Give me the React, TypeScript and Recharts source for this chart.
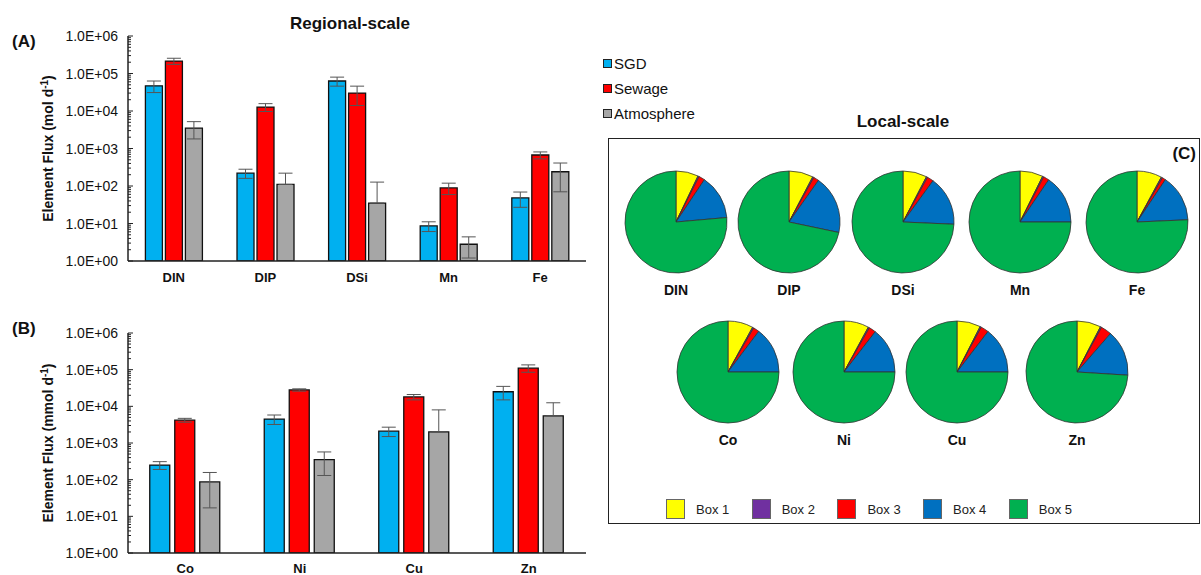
import React from 'react';
import { BarChart, Bar, XAxis, YAxis, ErrorBar, Legend, PieChart, Pie, Cell } from 'recharts';

const FONT = '"Liberation Sans", Arial, Helvetica, sans-serif';

// (A) regional-scale fluxes, mol d-1
const elementsA = ['DIN', 'DIP', 'DSi', 'Mn', 'Fe'];
const sgdA = [47000, 220, 63000, 8.6, 48];
const sgdAErr = [16000, 60, 17000, 2.5, 21];
const sewageA = [215000, 12700, 30000, 89, 670];
const sewageAErr = [40000, 3000, 16000, 30, 140];
const atmA = [3500, 110, 35, 2.8, 240];
const atmAErr = [1700, 110, 92, 1.6, 170];

// (B) regional-scale fluxes, mmol d-1
const elementsB = ['Co', 'Ni', 'Cu', 'Zn'];
const sgdB = [250, 4500, 2100, 25000];
const sgdBErr = [60, 1300, 600, 10000];
const sewageB = [4200, 28000, 18000, 110000];
const sewageBErr = [500, 2000, 3000, 25000];
const atmB = [87, 350, 2000, 5500];
const atmBErr = [70, 220, 6000, 7000];

const seriesNames = ['SGD', 'Sewage', 'Atmosphere'];
const seriesColors = ['#00B0F0', '#FF0000', '#A6A6A6'];

const decadeTicks = [1, 10, 100, 1e3, 1e4, 1e5, 1e6];
const minorTicks = decadeTicks.slice(0, -1).flatMap((d) => [2, 3, 4, 5, 6, 7, 8, 9].map((m) => m * d));
const allTicks = [...decadeTicks, ...minorTicks].sort((a, b) => a - b);

// (C) local-scale share per box (%), Box 1..5
const boxNames = ['Box 1', 'Box 2', 'Box 3', 'Box 4', 'Box 5'];
const boxColors = ['#FFFF00', '#7030A0', '#FF0000', '#0070C0', '#00B050'];
const shareDIN = [7.1, 0.4, 1.9, 14.2, 76.4];
const shareDIP = [7.7, 0.4, 1.7, 18.5, 71.7];
const shareDSi = [7.6, 0.4, 2.0, 15.7, 74.3];
const shareMn = [7.3, 0.4, 1.8, 15.5, 75.0];
const shareFe = [7.9, 0.4, 1.1, 14.9, 75.7];
const shareCo = [8.0, 0.4, 1.9, 14.7, 75.0];
const shareNi = [7.9, 0.4, 2.2, 14.5, 75.0];
const shareCu = [7.5, 0.4, 2.5, 14.6, 75.0];
const shareZn = [7.6, 0.4, 3.4, 14.6, 74.0];

// pie layout (chart coords, chart placed at 600,110)
const pies = [
  { name: 'DIN', share: shareDIN, cx: 76, cy: 112 },
  { name: 'DIP', share: shareDIP, cx: 189, cy: 112 },
  { name: 'DSi', share: shareDSi, cx: 303, cy: 112 },
  { name: 'Mn', share: shareMn, cx: 420, cy: 112 },
  { name: 'Fe', share: shareFe, cx: 537, cy: 112 },
  { name: 'Co', share: shareCo, cx: 128, cy: 262 },
  { name: 'Ni', share: shareNi, cx: 244, cy: 262 },
  { name: 'Cu', share: shareCu, cx: 357, cy: 262 },
  { name: 'Zn', share: shareZn, cx: 477, cy: 262 },
];

// lower whisker is dropped when it would go below zero (log axis)
const err = (v: number, e: number) => [e >= v ? 0 : e, e];

function buildRows(names: string[], sgd: number[], sgdE: number[], sew: number[], sewE: number[], atm: number[], atmE: number[]) {
  return names.map((name, i) => ({
    name,
    sgd: sgd[i],
    sgdErr: err(sgd[i], sgdE[i]),
    sewage: sew[i],
    sewageErr: err(sew[i], sewE[i]),
    atm: atm[i],
    atmErr: err(atm[i], atmE[i]),
  }));
}

const rowsA = buildRows(elementsA, sgdA, sgdAErr, sewageA, sewageAErr, atmA, atmAErr);
const rowsB = buildRows(elementsB, sgdB, sgdBErr, sewageB, sewageBErr, atmB, atmBErr);

const fmtSci = (v: number) => `1.0E+${String(Math.round(Math.log10(v))).padStart(2, '0')}`;

function LogTick(props: any) {
  const { x, y, payload } = props;
  const v = payload.value;
  const major = decadeTicks.includes(v);
  const ax = x + 10;
  return (
    <g>
      <line x1={ax} x2={ax + (major ? 5 : 3)} y1={y} y2={y} stroke="#222" strokeWidth={1} />
      {major && (
        <text x={x} y={y} dy={5} textAnchor="end" fontFamily={FONT} fontSize={14} fill="#111">
          {fmtSci(v)}
        </text>
      )}
    </g>
  );
}

function YLabel(props: any) {
  const { viewBox, unit } = props;
  const cx = (viewBox?.x ?? 0) + 53;
  const cy = (viewBox?.y ?? 0) + (viewBox?.height ?? 0) / 2;
  return (
    <text
      transform={`translate(${cx},${cy}) rotate(-90)`}
      textAnchor="middle"
      fontFamily={FONT}
      fontSize={14}
      fontWeight="bold"
      fill="#111"
    >
      Element Flux ({unit} d
      <tspan dy={-5} fontSize={10}>-1</tspan>
      <tspan dy={5}>)</tspan>
    </text>
  );
}

function SourceLegend() {
  return (
    <div style={{ fontFamily: FONT, fontSize: 15, color: '#111' }}>
      {seriesNames.map((n, i) => (
        <div key={n} style={{ display: 'flex', alignItems: 'center', height: 25 }}>
          <span style={{ width: 7, height: 7, background: seriesColors[i], border: '1px solid #222', marginRight: 2 }} />
          <span>{n}</span>
        </div>
      ))}
    </div>
  );
}

function BoxLegend() {
  return (
    <div style={{ display: 'flex', fontFamily: FONT, fontSize: 13, color: '#222' }}>
      {boxNames.map((n, i) => (
        <div key={n} style={{ display: 'flex', alignItems: 'center', width: 85.7 }}>
          <span style={{ width: 17, height: 18, background: boxColors[i], border: '1px solid #666', marginRight: 11 }} />
          <span>{n}</span>
        </div>
      ))}
    </div>
  );
}

const frameLine = { stroke: '#222', strokeWidth: 1.5 };

function FluxPanel({ rows, unit, width, height, margin, gap, labelMargin, legend }: any) {
  const keys = ['sgd', 'sewage', 'atm'];
  return (
    <BarChart width={width} height={height} data={rows} margin={margin} barCategoryGap="19%" barGap={gap}>
      <XAxis
        dataKey="name"
        height={20}
        tickLine={false}
        tickSize={0}
        tickMargin={labelMargin}
        interval={0}
        axisLine={frameLine}
        tick={{ fontFamily: FONT, fontSize: 13, fontWeight: 'bold', fill: '#111' }}
      />
      <XAxis xAxisId="top" orientation="top" dataKey="name" height={0} tick={false} tickLine={false} axisLine={frameLine} />
      <YAxis
        scale="log"
        type="number"
        domain={[1, 1e6]}
        allowDataOverflow
        ticks={allTicks}
        interval={0}
        width={128}
        tickSize={0}
        tickMargin={10}
        tickLine={false}
        axisLine={frameLine}
        tick={<LogTick />}
        label={<YLabel unit={unit} />}
      />
      <YAxis yAxisId="right" orientation="right" width={0} tick={false} tickLine={false} axisLine={frameLine} />
      {keys.map((k, i) => (
        <Bar key={k} dataKey={k} name={seriesNames[i]} fill={seriesColors[i]} stroke="#111" strokeWidth={1.3} isAnimationActive={false}>
          <ErrorBar dataKey={`${k}Err`} width={7} stroke="#555" strokeWidth={1} direction="y" isAnimationActive={false} />
        </Bar>
      ))}
      {legend && (
        <Legend
          layout="vertical"
          align="center"
          verticalAlign="middle"
          content={<SourceLegend />}
          wrapperStyle={{ left: 603, top: 51, width: 120 }}
        />
      )}
    </BarChart>
  );
}

const txt = (s: React.CSSProperties): React.CSSProperties => ({
  position: 'absolute',
  fontFamily: FONT,
  fontWeight: 'bold',
  lineHeight: 1,
  color: '#111',
  whiteSpace: 'nowrap',
  ...s,
});

export default function App() {
  return (
    <div style={{ position: 'absolute', left: 0, top: 0, width: 1201, height: 575, background: '#fff', overflow: 'hidden' }}>
      <div style={txt({ left: 250, top: 15, width: 200, textAlign: 'center', fontSize: 17 })}>Regional-scale</div>
      <div style={txt({ left: 12, top: 33, fontSize: 17 })}>(A)</div>
      <div style={txt({ left: 12, top: 320, fontSize: 17 })}>(B)</div>

      <div style={{ position: 'absolute', left: 0, top: 0 }}>
        <FluxPanel
          rows={rowsA}
          unit="mol"
          width={720}
          height={290}
          margin={{ top: 36, right: 134, bottom: 9, left: 0 }}
          gap={3}
          labelMargin={12}
          legend
        />
      </div>
      <div style={{ position: 'absolute', left: 0, top: 290 }}>
        <FluxPanel
          rows={rowsB}
          unit="mmol"
          width={600}
          height={285}
          margin={{ top: 43, right: 14, bottom: 2, left: 0 }}
          gap={5}
          labelMargin={11}
        />
      </div>

      <div style={txt({ left: 803, top: 113, width: 200, textAlign: 'center', fontSize: 17 })}>Local-scale</div>
      <div
        style={{
          position: 'absolute',
          left: 608,
          top: 138,
          width: 592,
          height: 386,
          border: '1.5px solid #222',
          boxSizing: 'border-box',
        }}
      />
      <div style={txt({ left: 1100, top: 145, width: 96, textAlign: 'right', fontSize: 17 })}>(C)</div>

      <div style={{ position: 'absolute', left: 600, top: 110 }}>
        <PieChart width={601} height={430} margin={{ top: 0, right: 0, bottom: 0, left: 0 }}>
          {pies.map((p) => (
            <Pie
              key={p.name}
              data={boxNames.map((b, i) => ({ name: b, value: p.share[i] }))}
              dataKey="value"
              cx={p.cx}
              cy={p.cy}
              outerRadius={51}
              startAngle={90}
              endAngle={-270}
              stroke="#333"
              strokeWidth={0.8}
              isAnimationActive={false}
            >
              {boxColors.map((c) => (
                <Cell key={c} fill={c} />
              ))}
            </Pie>
          ))}
          <Legend
            layout="horizontal"
            align="center"
            verticalAlign="middle"
            content={<BoxLegend />}
            wrapperStyle={{ left: 66, top: 389, width: 440 }}
          />
        </PieChart>
      </div>
      {pies.map((p) => (
        <div
          key={p.name}
          style={txt({ left: 600 + p.cx - 40, top: 110 + p.cy + 61, width: 80, textAlign: 'center', fontSize: 14 })}
        >
          {p.name}
        </div>
      ))}
    </div>
  );
}
